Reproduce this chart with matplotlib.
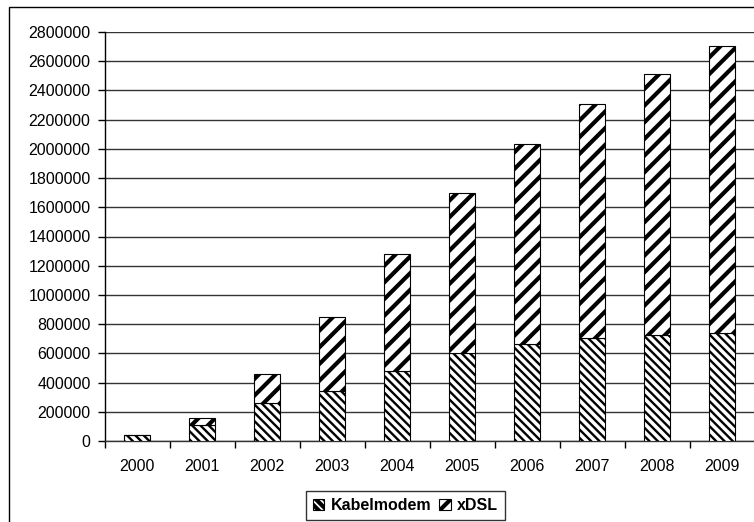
import matplotlib.pyplot as plt
import matplotlib as mpl
from matplotlib.patches import Rectangle

plt.rcParams['font.family'] = ['Liberation Sans', 'DejaVu Sans']

years = ['2000', '2001', '2002', '2003', '2004', '2005', '2006', '2007', '2008', '2009']
kabelmodem = [38000, 112000, 262000, 345000, 480000, 600000, 665000, 705000, 725000, 740000]
xdsl = [4000, 48000, 198000, 505000, 800000, 1100000, 1365000, 1605000, 1790000, 1965000]
yticks = list(range(0, 2800001, 200000))

fig = plt.figure(figsize=(7.54, 5.22), dpi=100)
fig.patch.set_facecolor('white')

# outer chart frame (runs off the right and bottom edges)
fig.patches.append(Rectangle((9 / 754, -0.2), 1.2, 1.2 - 7 / 522,
                             transform=fig.transFigure, fill=False,
                             edgecolor='black', linewidth=1.0))

ax = fig.add_axes([104.5 / 754, 81 / 522, 650 / 754, 409 / 522])

x = list(range(len(years)))

mpl.rcParams['hatch.linewidth'] = 1.7
b1 = ax.bar(x, kabelmodem, width=0.4, color='white', edgecolor='black',
            linewidth=0.8, hatch='\\\\\\\\', label='Kabelmodem', zorder=3)
mpl.rcParams['hatch.linewidth'] = 3.0
b2 = ax.bar(x, xdsl, width=0.4, bottom=kabelmodem, color='white', edgecolor='black',
            linewidth=0.8, hatch='//', label='xDSL', zorder=3)

ax.set_xlim(-0.5, len(years) - 0.5)
ax.set_ylim(0, 2800000)
ax.set_yticks(yticks)
ax.set_yticklabels([str(v) for v in yticks], fontsize=11.5)
ax.yaxis.grid(True, color='#333333', linewidth=1.0, zorder=0)
ax.set_axisbelow(True)

ax.set_xticks(x)
ax.set_xticklabels(years, fontsize=11.5)
ax.set_xticks([i - 0.5 for i in range(len(years) + 1)], minor=True)
ax.tick_params(axis='x', which='major', length=0, pad=13)
ax.tick_params(axis='x', which='minor', length=5, width=1, direction='out')
ax.tick_params(axis='y', length=5, width=1, direction='out', pad=5)

for side in ['top', 'right']:
    ax.spines[side].set_visible(False)
ax.spines['left'].set_linewidth(1.0)
ax.spines['bottom'].set_linewidth(1.0)
ax.spines['bottom'].set_color('#333333')

leg = fig.legend(handles=[b1, b2], loc='upper left',
                 bbox_to_anchor=(306 / 754, 1 - 491 / 522),
                 ncol=2, frameon=True, fancybox=False, edgecolor='black',
                 prop={'weight': 'bold', 'size': 11.5},
                 handlelength=0.7, handleheight=0.7, handletextpad=0.4,
                 columnspacing=0.5, borderpad=0.45, borderaxespad=0)
leg.get_frame().set_linewidth(1.0)

fig.savefig('out.png', dpi=100)
